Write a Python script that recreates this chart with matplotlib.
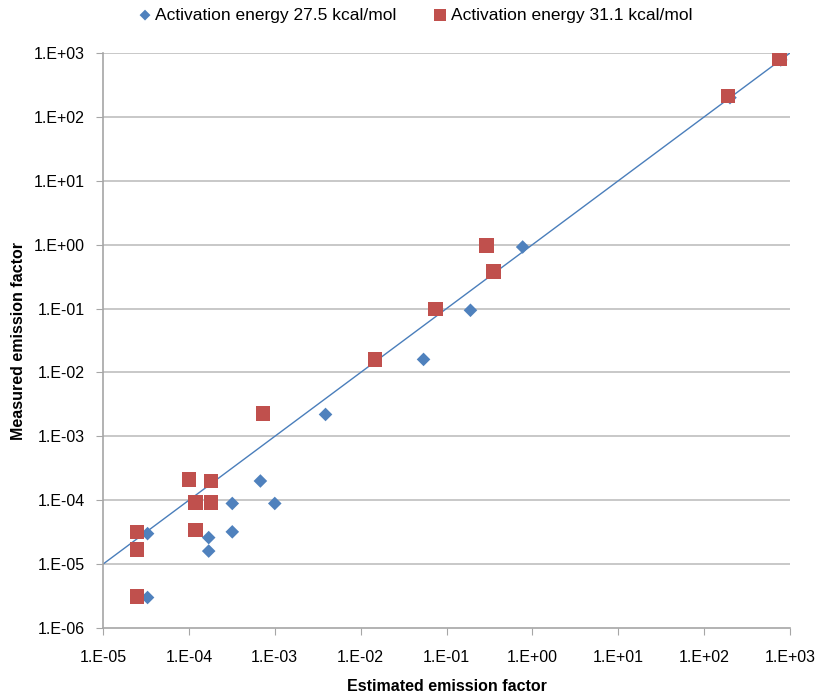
import math

import matplotlib.pyplot as plt
from matplotlib.ticker import FixedLocator, FuncFormatter, NullLocator

plt.rcParams['font.family'] = ['Liberation Sans', 'DejaVu Sans']

# --- data ---
ea275_est = [3.3e-5, 3.3e-5, 1.7e-4, 1.7e-4, 3.2e-4, 3.2e-4, 6.8e-4, 1.0e-3, 1.8e-4,
             3.9e-3, 5.4e-2, 0.19, 0.36, 0.77, 200, 780]
ea275_meas = [3.0e-6, 3.0e-5, 1.6e-5, 2.6e-5, 8.9e-5, 3.2e-5, 2.0e-4, 8.9e-5, 2.0e-4,
              2.2e-3, 1.6e-2, 0.094, 0.37, 0.92, 200, 780]

ea311_est = [2.5e-5, 2.5e-5, 2.5e-5, 1.0e-4, 1.2e-4, 1.2e-4, 1.8e-4, 1.8e-4, 7.3e-4,
             1.47e-2, 7.4e-2, 0.29, 0.35, 190, 760]
ea311_meas = [3.2e-5, 1.7e-5, 3.1e-6, 2.1e-4, 9.3e-5, 3.4e-5, 2.0e-4, 9.3e-5, 2.3e-3,
              1.6e-2, 9.9e-2, 0.97, 0.38, 213, 827]

parity = [1e-5, 1e3]
decades_x = [10.0 ** k for k in range(-5, 4)]
decades_y = [10.0 ** k for k in range(-6, 4)]

blue = '#4F81BD'
red = '#C0504D'

fig = plt.figure(figsize=(8.19, 6.94), dpi=100)
ax = fig.add_axes([0.1258, 0.0951, 0.8388, 0.8285])

ax.set_xscale('log')
ax.set_yscale('log')
ax.set_xlim(1e-5, 1e3)
ax.set_ylim(1e-6, 1e3)

for yv in decades_y[1:]:
    ax.axhline(yv, color='#BFBFBF', lw=1.2, zorder=0)

ax.plot(parity, parity, color='#4A7EBB', lw=1.0, zorder=1)

ax.scatter(ea275_est, ea275_meas, marker='D', s=48, color=blue, edgecolors='none',
           zorder=2, label='Activation energy 27.5 kcal/mol')
ax.scatter(ea311_est, ea311_meas, marker='s', s=110, color=red, edgecolors='none',
           zorder=3, label='Activation energy 31.1 kcal/mol')

fmt = FuncFormatter(lambda v, p: '1.E%+03d' % round(math.log10(v)))
ax.xaxis.set_major_locator(FixedLocator(decades_x))
ax.yaxis.set_major_locator(FixedLocator(decades_y))
ax.xaxis.set_minor_locator(NullLocator())
ax.yaxis.set_minor_locator(NullLocator())
ax.xaxis.set_major_formatter(fmt)
ax.yaxis.set_major_formatter(fmt)

for side in ['top', 'right']:
    ax.spines[side].set_visible(False)
for side in ['left', 'bottom']:
    ax.spines[side].set_color('#A6A6A6')
    ax.spines[side].set_linewidth(1.2)
ax.tick_params(axis='both', direction='out', length=5, color='#A6A6A6',
               labelsize=11.5, labelcolor='black')
ax.tick_params(axis='x', pad=11)
ax.tick_params(axis='y', pad=8)

ax.set_xlabel('Estimated emission factor', fontsize=11.5, fontweight='bold', labelpad=10)
ax.set_ylabel('Measured emission factor', fontsize=11.5, fontweight='bold', labelpad=6)

ax.legend(loc='center', bbox_to_anchor=(0.453, 1.066), ncol=2, frameon=False,
          fontsize=12.5, handlelength=1.0, handletextpad=0.1, columnspacing=2.0,
          markerscale=0.8, borderaxespad=0.0)

fig.savefig('out.png', dpi=100)
